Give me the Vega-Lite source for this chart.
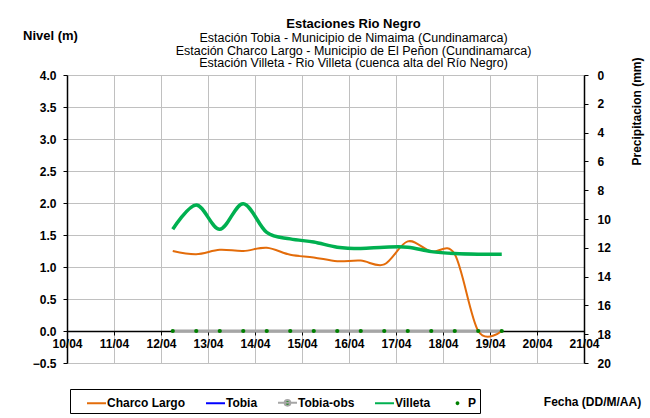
{
  "$schema": "https://vega.github.io/schema/vega-lite/v6.json",
  "width": 517,
  "height": 288,
  "autosize": {"type": "none"},
  "padding": {"left": 67, "top": 75, "right": 66, "bottom": 55},
  "background": "white",
  "title": {
    "text": "Estaciones Rio Negro",
    "subtitle": [
      "Estación Tobia - Municipio de Nimaima (Cundinamarca)",
      "Estación Charco Largo - Municipio de El Peñon (Cundinamarca)",
      "Estación Villeta - Rio Villeta (cuenca alta del Río Negro)"
    ],
    "anchor": "middle",
    "frame": "group",
    "dx": 28,
    "dy": 49,
    "font": "Liberation Sans",
    "fontSize": 13,
    "fontWeight": "bold",
    "color": "black",
    "subtitleFont": "Liberation Sans",
    "subtitleFontSize": 12.5,
    "subtitleFontWeight": "normal",
    "subtitleColor": "black",
    "subtitleLineHeight": 12.7,
    "subtitlePadding": 1,
    "offset": 8
  },
  "datasets": {
    "niveles": [
      {"fecha": "2011-04-12T06:00:00", "serie": "Charco Largo", "nivel": 1.25},
      {"fecha": "2011-04-12T18:00:00", "serie": "Charco Largo", "nivel": 1.20},
      {"fecha": "2011-04-13T06:00:00", "serie": "Charco Largo", "nivel": 1.27},
      {"fecha": "2011-04-13T18:00:00", "serie": "Charco Largo", "nivel": 1.25},
      {"fecha": "2011-04-14T06:00:00", "serie": "Charco Largo", "nivel": 1.30},
      {"fecha": "2011-04-14T18:00:00", "serie": "Charco Largo", "nivel": 1.19},
      {"fecha": "2011-04-15T06:00:00", "serie": "Charco Largo", "nivel": 1.15},
      {"fecha": "2011-04-15T18:00:00", "serie": "Charco Largo", "nivel": 1.09},
      {"fecha": "2011-04-16T06:00:00", "serie": "Charco Largo", "nivel": 1.10},
      {"fecha": "2011-04-16T18:00:00", "serie": "Charco Largo", "nivel": 1.04},
      {"fecha": "2011-04-17T06:00:00", "serie": "Charco Largo", "nivel": 1.40},
      {"fecha": "2011-04-17T18:00:00", "serie": "Charco Largo", "nivel": 1.24},
      {"fecha": "2011-04-18T06:00:00", "serie": "Charco Largo", "nivel": 1.20},
      {"fecha": "2011-04-18T18:00:00", "serie": "Charco Largo", "nivel": 0.0},
      {"fecha": "2011-04-19T06:00:00", "serie": "Charco Largo", "nivel": 0.0},
      {"fecha": "2011-04-12T06:00:00", "serie": "Villeta", "nivel": 1.59},
      {"fecha": "2011-04-12T18:00:00", "serie": "Villeta", "nivel": 1.97},
      {"fecha": "2011-04-13T06:00:00", "serie": "Villeta", "nivel": 1.59},
      {"fecha": "2011-04-13T18:00:00", "serie": "Villeta", "nivel": 1.99},
      {"fecha": "2011-04-14T06:00:00", "serie": "Villeta", "nivel": 1.54},
      {"fecha": "2011-04-14T18:00:00", "serie": "Villeta", "nivel": 1.44},
      {"fecha": "2011-04-15T06:00:00", "serie": "Villeta", "nivel": 1.39},
      {"fecha": "2011-04-15T18:00:00", "serie": "Villeta", "nivel": 1.31},
      {"fecha": "2011-04-16T06:00:00", "serie": "Villeta", "nivel": 1.29},
      {"fecha": "2011-04-16T18:00:00", "serie": "Villeta", "nivel": 1.31},
      {"fecha": "2011-04-17T06:00:00", "serie": "Villeta", "nivel": 1.31},
      {"fecha": "2011-04-17T18:00:00", "serie": "Villeta", "nivel": 1.24},
      {"fecha": "2011-04-18T06:00:00", "serie": "Villeta", "nivel": 1.21},
      {"fecha": "2011-04-18T18:00:00", "serie": "Villeta", "nivel": 1.20},
      {"fecha": "2011-04-19T06:00:00", "serie": "Villeta", "nivel": 1.20},
      {"fecha": "2011-04-12T06:00:00", "serie": "Tobia-obs", "nivel": 0.0},
      {"fecha": "2011-04-12T18:00:00", "serie": "Tobia-obs", "nivel": 0.0},
      {"fecha": "2011-04-13T06:00:00", "serie": "Tobia-obs", "nivel": 0.0},
      {"fecha": "2011-04-13T18:00:00", "serie": "Tobia-obs", "nivel": 0.0},
      {"fecha": "2011-04-14T06:00:00", "serie": "Tobia-obs", "nivel": 0.0},
      {"fecha": "2011-04-14T18:00:00", "serie": "Tobia-obs", "nivel": 0.0},
      {"fecha": "2011-04-15T06:00:00", "serie": "Tobia-obs", "nivel": 0.0},
      {"fecha": "2011-04-15T18:00:00", "serie": "Tobia-obs", "nivel": 0.0},
      {"fecha": "2011-04-16T06:00:00", "serie": "Tobia-obs", "nivel": 0.0},
      {"fecha": "2011-04-16T18:00:00", "serie": "Tobia-obs", "nivel": 0.0},
      {"fecha": "2011-04-17T06:00:00", "serie": "Tobia-obs", "nivel": 0.0},
      {"fecha": "2011-04-17T18:00:00", "serie": "Tobia-obs", "nivel": 0.0},
      {"fecha": "2011-04-18T06:00:00", "serie": "Tobia-obs", "nivel": 0.0},
      {"fecha": "2011-04-18T18:00:00", "serie": "Tobia-obs", "nivel": 0.0},
      {"fecha": "2011-04-19T06:00:00", "serie": "Tobia-obs", "nivel": 0.0}
    ],
    "precipitacion": []
  },
  "layer": [
    {
      "encoding": {
        "x": {
          "field": "fecha", "type": "temporal",
          "scale": {"domain": [{"year": 2011, "month": 4, "date": 10}, {"year": 2011, "month": 4, "date": 21}], "nice": false},
          "axis": {
            "orient": "bottom", "offset": -32, "format": "%d/%m",
            "tickCount": {"interval": "day", "step": 1},
            "grid": true, "tickSize": 4, "labelPadding": 3,
            "labelFlush": false, "labelOverlap": false,
            "domainWidth": 1.5,
            "title": "Fecha (DD/M/AA)", "titleX": 525, "titleY": 70,
            "titleAlign": "center", "titleBaseline": "middle"
          }
        },
        "y": {
          "field": "nivel", "type": "quantitative",
          "scale": {"domain": [-0.5, 4], "nice": false, "zero": false},
          "axis": {
            "orient": "left",
            "values": [-0.5, 0, 0.5, 1, 1.5, 2, 2.5, 3, 3.5, 4],
            "format": ".1f", "grid": true, "tickSize": 4, "labelPadding": 7,
            "labelOverlap": false, "labelFlush": false,
            "domainWidth": 1.5,
            "title": "Nivel (m)", "titleAngle": 0, "titleX": -17, "titleY": -40,
            "titleAlign": "center", "titleBaseline": "middle", "titleFontSize": 13
          }
        }
      },
      "layer": [
        {
          "data": {"name": "niveles"},
          "transform": [{"filter": "datum.serie == 'Tobia-obs'"}],
          "mark": {"type": "line", "strokeWidth": 3},
          "encoding": {
            "stroke": {
              "field": "serie", "type": "nominal", "title": "\u00a0\u00a0",
              "scale": {"domain": ["Charco Largo", "Tobia", "Tobia-obs", "Villeta", "P"], "range": ["#E36C0A", "#0000FF", "#A6A6A6", "#00B050", "transparent"]},
              "legend": {
                "orient": "none", "legendX": 3, "legendY": 314, "direction": "horizontal", "columns": 5,
                "columnPadding": 16, "padding": 3, "strokeColor": "black", "fillColor": "white",
                "titleOrient": "left", "titlePadding": 13, "titleFontSize": 12,
                "labelFontSize": 12, "labelFontWeight": "bold", "labelColor": "black", "labelOffset": 0,
                "symbolSize": 361, "symbolStrokeWidth": 2,
                "labelExpr": "datum.label == 'P' ? 'P\u00a0\u00a0\u00a0' : datum.label",
                "encode": {"symbols": {"update": {
                  "fill": {"scale": "fill", "field": "value"},
                  "stroke": {"scale": "stroke", "field": "value"},
                  "shape": {"scale": "shape", "field": "value"},
                  "strokeWidth": {"value": 2},
                  "opacity": {"value": 1}
                }}}
              }
            }
          }
        },
        {
          "data": {"name": "niveles"},
          "transform": [{"filter": "datum.serie == 'Charco Largo'"}],
          "mark": {"type": "line", "strokeWidth": 2, "interpolate": "cardinal"},
          "encoding": {
            "stroke": {
              "field": "serie", "type": "nominal", "title": "\u00a0\u00a0",
              "scale": {"domain": ["Charco Largo", "Tobia", "Tobia-obs", "Villeta", "P"], "range": ["#E36C0A", "#0000FF", "#A6A6A6", "#00B050", "transparent"]}
            }
          }
        },
        {
          "data": {"name": "niveles"},
          "transform": [{"filter": "datum.serie == 'Villeta'"}],
          "mark": {"type": "line", "strokeWidth": 3.5, "interpolate": "cardinal"},
          "encoding": {
            "stroke": {
              "field": "serie", "type": "nominal", "title": "\u00a0\u00a0",
              "scale": {"domain": ["Charco Largo", "Tobia", "Tobia-obs", "Villeta", "P"], "range": ["#E36C0A", "#0000FF", "#A6A6A6", "#00B050", "transparent"]}
            }
          }
        },
        {
          "data": {"name": "niveles"},
          "transform": [{"filter": "datum.serie == 'Tobia-obs'"}],
          "mark": {"type": "point", "filled": true, "size": 18, "opacity": 1, "shape": "circle"},
          "encoding": {
            "fill": {
              "field": "serie", "type": "nominal", "title": "\u00a0\u00a0",
              "scale": {"domain": ["Charco Largo", "Tobia", "Tobia-obs", "Villeta", "P"], "range": ["transparent", "transparent", "#008000", "transparent", "#008000"]}
            }
          }
        },
        {
          "data": {"values": [{}]},
          "mark": {"type": "rule", "color": "black", "strokeWidth": 1.5},
          "encoding": {"x": null, "y": {"datum": -0.5, "type": "quantitative"}}
        }
      ]
    },
    {
      "data": {"name": "precipitacion"},
      "mark": {"type": "point", "filled": true, "size": 10},
      "encoding": {
        "x": {
          "field": "fecha", "type": "temporal",
          "scale": {"domain": [{"year": 2011, "month": 4, "date": 10}, {"year": 2011, "month": 4, "date": 21}], "nice": false},
          "axis": {
            "orient": "bottom", "offset": -32, "format": "%d/%m",
            "tickCount": {"interval": "day", "step": 1},
            "grid": true, "tickSize": 4, "labelPadding": 3,
            "labelFlush": false, "labelOverlap": false,
            "domainWidth": 1.5,
            "title": "Fecha (DD/M/AA)", "titleX": 525, "titleY": 70,
            "titleAlign": "center", "titleBaseline": "middle"
          }
        },
        "y": {
          "field": "precip", "type": "quantitative",
          "scale": {"domain": [0, 20], "reverse": true, "nice": false, "zero": false},
          "axis": {
            "orient": "right",
            "values": [0, 2, 4, 6, 8, 10, 12, 14, 16, 18, 20],
            "format": "d", "grid": false, "tickSize": 4, "labelPadding": 9,
            "labelOverlap": false, "labelFlush": false,
            "domainWidth": 1.5,
            "title": "Precipitacion (mm)", "titleAngle": 270, "titleX": 52, "titleY": 36,
            "titleAlign": "center", "titleBaseline": "middle"
          }
        },
        "fill": {
          "field": "serie", "type": "nominal", "title": "\u00a0\u00a0",
          "scale": {"domain": ["Charco Largo", "Tobia", "Tobia-obs", "Villeta", "P"], "range": ["transparent", "transparent", "#008000", "transparent", "#008000"]}
        },
        "shape": {
          "field": "serie", "type": "nominal", "title": "\u00a0\u00a0",
          "scale": {"domain": ["Charco Largo", "Tobia", "Tobia-obs", "Villeta", "P"], "range": ["M-1,0H1", "M-1,0H1", "M-1,0H1M0.3,0A0.3,0.3,0,1,1,-0.3,0A0.3,0.3,0,1,1,0.3,0", "M-1,0H1", "M0.2,0A0.2,0.2,0,1,1,-0.2,0A0.2,0.2,0,1,1,0.2,0"]}
        }
      }
    }
  ],
  "resolve": {"scale": {"y": "independent"}},
  "config": {
    "font": "Liberation Sans",
    "view": {"stroke": null},
    "axis": {
      "labelFont": "Liberation Sans", "labelFontSize": 12, "labelFontWeight": "bold", "labelColor": "black",
      "titleFont": "Liberation Sans", "titleFontSize": 12, "titleFontWeight": "bold", "titleColor": "black",
      "domainColor": "black", "tickColor": "black", "gridColor": "#C0C0C0", "gridWidth": 1,
      "labelOverlap": false
    },
    "axisY": {"labelOverlap": false},
    "legend": {
      "labelFont": "Liberation Sans", "titleFont": "Liberation Sans",
      "orient": "none", "direction": "horizontal", "columns": 5,
      "columnPadding": 16, "padding": 3, "strokeColor": "black", "fillColor": "white",
      "titleOrient": "left", "titlePadding": 13, "titleFontSize": 12,
      "labelFontSize": 12, "labelFontWeight": "bold", "labelColor": "black", "labelOffset": 0,
      "symbolSize": 361, "symbolStrokeWidth": 2
    }
  }
}
